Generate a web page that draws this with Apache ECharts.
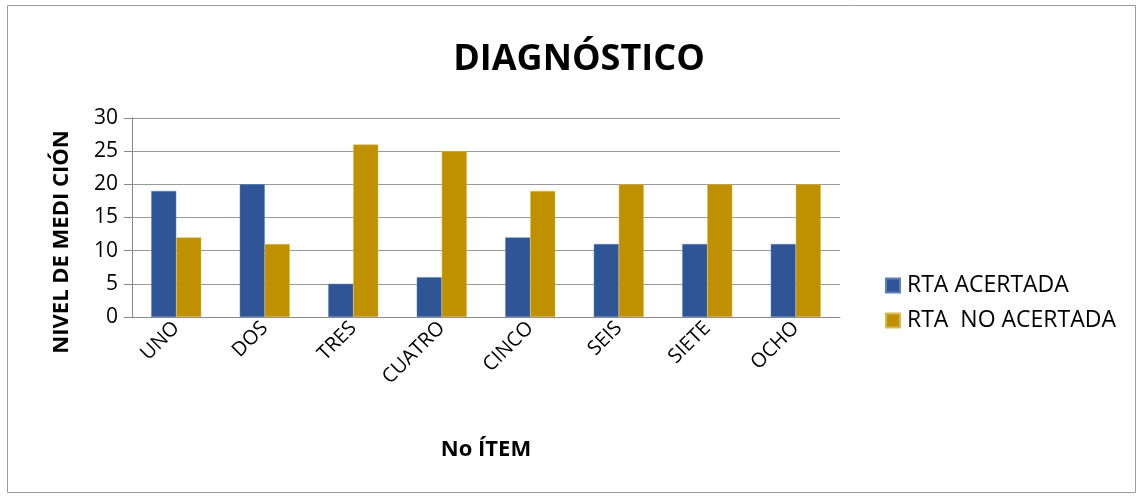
<!DOCTYPE html>
<html>
<head>
<meta charset="utf-8">
<script src="https://cdn.jsdelivr.net/npm/echarts@6/dist/echarts.min.js"></script>
<style>
  html, body { margin: 0; padding: 0; background: #fff; }
  #chart { width: 1143px; height: 498px; }
</style>
</head>
<body>
<div id="chart"></div>
<script>
const categories = ['UNO', 'DOS', 'TRES', 'CUATRO', 'CINCO', 'SEIS', 'SIETE', 'OCHO'];
const acertada = [19, 20, 5, 6, 12, 11, 11, 11];
const noAcertada = [12, 11, 26, 25, 19, 20, 20, 20];
const seriesNames = ['RTA ACERTADA', 'RTA  NO ACERTADA'];
const yTitle = 'NIVEL DE MEDI CIÓN';

const FONT = '"Open Sans", "Liberation Sans", sans-serif';
const chart = echarts.init(document.getElementById('chart'));

chart.setOption({
  animation: false,
  backgroundColor: '#fff',
  graphic: [
    {
      type: 'rect',
      shape: { x: 7.5, y: 5.5, width: 1128, height: 487 },
      style: { fill: 'none', stroke: '#9a9a9a', lineWidth: 1 }
    },
    {
      // vertical value-axis title, placed beside the tick labels
      type: 'text',
      x: 62,
      y: 242,
      rotation: Math.PI / 2,
      style: {
        text: yTitle,
        fontFamily: FONT,
        fontSize: 22,
        fontWeight: 'bold',
        fill: '#000',
        align: 'center',
        verticalAlign: 'middle'
      }
    }
  ],
  title: {
    text: 'DIAGNÓSTICO',
    left: 574,
    top: 37,
    textAlign: 'center',
    textStyle: { fontFamily: FONT, fontSize: 36, fontWeight: 'bold', color: '#000' }
  },
  legend: {
    orient: 'vertical',
    left: 880,
    top: 269,
    itemWidth: 14,
    itemHeight: 14,
    itemGap: 12,
    icon: 'rect',
    textStyle: { fontFamily: FONT, fontSize: 23, color: '#000', padding: [0, 0, 0, 2] },
    data: seriesNames
  },
  grid: { left: 132, right: 303, top: 118, bottom: 181 },
  xAxis: {
    type: 'category',
    data: categories,
    name: 'No ÍTEM',
    nameLocation: 'middle',
    nameGap: 122,
    nameTextStyle: { fontFamily: FONT, fontSize: 22, fontWeight: 'bold', color: '#000' },
    axisLine: { lineStyle: { color: '#888', width: 1 } },
    axisTick: { show: false },
    axisLabel: {
      rotate: 45,
      margin: 8,
      fontFamily: FONT,
      fontSize: 20,
      color: '#000'
    }
  },
  yAxis: {
    type: 'value',
    min: 0,
    max: 30,
    interval: 5,
    axisLine: { show: true, lineStyle: { color: '#888', width: 1 } },
    axisTick: { show: true, length: 8, lineStyle: { color: '#888' } },
    axisLabel: { fontFamily: FONT, fontSize: 21, color: '#000', margin: 14 },
    splitLine: { lineStyle: { color: '#999', width: 1 } }
  },
  series: [
    {
      name: seriesNames[0],
      type: 'bar',
      data: acertada,
      barWidth: 25,
      barGap: '0%',
      itemStyle: { color: '#2f5597', borderColor: '#5b7fb8', borderWidth: 0.5 }
    },
    {
      name: seriesNames[1],
      type: 'bar',
      data: noAcertada,
      barWidth: 25,
      itemStyle: { color: '#bf9000', borderColor: '#d8b850', borderWidth: 0.5 }
    }
  ]
});
</script>
</body>
</html>
